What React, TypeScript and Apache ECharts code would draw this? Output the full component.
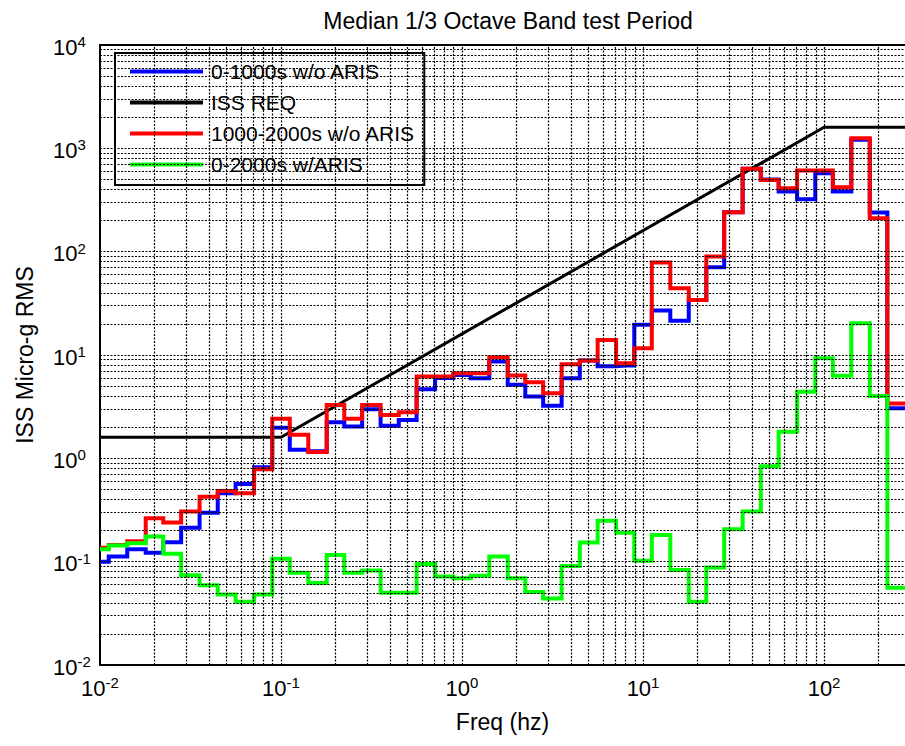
import React, { useEffect, useRef } from "react";
import * as echarts from "echarts";

// 1/3 octave band centre frequencies (Hz)
const bandCenters = [
  0.01, 0.0125, 0.016, 0.02, 0.025, 0.0315, 0.04, 0.05, 0.063, 0.08,
  0.1, 0.125, 0.16, 0.2, 0.25, 0.315, 0.4, 0.5, 0.63, 0.8,
  1, 1.25, 1.6, 2, 2.5, 3.15, 4, 5, 6.3, 8,
  10, 12.5, 16, 20, 25, 31.5, 40, 50, 63, 80,
  100, 125, 160, 200, 250,
];

// 0-1000s w/o ARIS (blue)
const blueValues = [
  0.1, 0.112, 0.132, 0.122, 0.154, 0.213, 0.298, 0.459, 0.565, 0.82,
  1.98, 1.21, 1.17, 2.24, 2.03, 2.99, 2.07, 2.35, 4.67, 6.0,
  6.4, 5.96, 8.63, 5.14, 3.96, 3.22, 5.96, 8.83, 7.8, 7.9,
  19.6, 26.9, 21.5, 34, 70.8, 241, 634, 500, 382, 322,
  575, 382, 1208, 239, 3.05,
];

// 1000-2000s w/o ARIS (red)
const redValues = [
  0.136, 0.145, 0.158, 0.263, 0.239, 0.305, 0.426, 0.483, 0.459, 0.783,
  2.42, 1.69, 1.15, 3.29, 2.41, 3.29, 2.63, 2.79, 6.2, 6.2,
  6.66, 6.66, 9.5, 6.32, 5.45, 4.27, 8.14, 8.83, 14.0, 8.3,
  11.6, 78.5, 44.3, 34.1, 89.7, 241, 634, 495, 412, 610,
  610, 421, 1254, 211, 3.4,
];

// 0-2000s w/ARIS (green)
const greenValues = [
  0.132, 0.143, 0.151, 0.175, 0.119, 0.074, 0.059, 0.048, 0.041, 0.048,
  0.107, 0.078, 0.062, 0.116, 0.078, 0.082, 0.05, 0.05, 0.095, 0.072,
  0.069, 0.073, 0.112, 0.069, 0.051, 0.044, 0.091, 0.153, 0.249, 0.191,
  0.102, 0.181, 0.083, 0.041, 0.088, 0.206, 0.305, 0.84, 1.81, 4.4,
  9.3, 6.3, 20.3, 4.0, 0.056,
];

// ISS requirement curve
const reqFreq = [0.01, 0.1, 100, 280];
const reqValues = [1.6, 1.6, 1600, 1600];

const seriesNames = ["0-1000s w/o ARIS", "ISS REQ", "1000-2000s w/o ARIS", "0-2000s w/ARIS"];

const X_MIN = 0.01;
const X_MAX = 280;
const Y_MIN = 0.01;
const Y_MAX = 10000;
const xDecades = [0.01, 0.1, 1, 10, 100];
const yDecades = [0.01, 0.1, 1, 10, 100, 1000];
const minorMultipliers = [1, 2, 3, 4, 5, 6, 7, 8, 9];

const FONT = "'Liberation Sans', Arial, Helvetica, sans-serif";

function toSteps(vals: number[]) {
  const d: number[][] = bandCenters.map((f, i) => [f, vals[i]]);
  d.push([X_MAX, vals[vals.length - 1]]);
  return d;
}

function powLabel(v: number) {
  const l = Math.log10(v);
  const e = Math.round(l);
  if (Math.abs(l - e) > 1e-6) return "";
  return "{b|10}{s|" + e + "}";
}

const richLabel = {
  b: { fontSize: 22, fontFamily: FONT, color: "#000", lineHeight: 22, padding: [10, 0, 6, 0] },
  s: { fontSize: 15, fontFamily: FONT, color: "#000", lineHeight: 18, verticalAlign: "top" },
};

export default function App() {
  const ref = useRef<HTMLDivElement>(null);
  useEffect(() => {
    document.body.style.margin = "0";
    if (!ref.current) return;
    const chart = echarts.init(ref.current, undefined, { renderer: "svg" });

    const gridLines: any[] = [];
    xDecades.forEach((d) =>
      minorMultipliers.forEach((m) => {
        const v = +(m * d).toPrecision(6);
        if (v > X_MIN * 1.0001 && v < X_MAX) gridLines.push({ xAxis: v });
      })
    );
    yDecades.forEach((d) =>
      minorMultipliers.forEach((m) => {
        const v = +(m * d).toPrecision(6);
        if (v > Y_MIN * 1.0001 && v < Y_MAX * 0.9999) gridLines.push({ yAxis: v });
      })
    );
    gridLines.push({ yAxis: Y_MAX });

    const option: any = {
      animation: false,
      backgroundColor: "#fff",
      title: {
        text: "Median 1/3 Octave Band test Period",
        left: 503,
        textAlign: "center",
        top: 4,
        textStyle: { fontSize: 23, fontWeight: "normal", fontFamily: FONT, color: "#000" },
      },
      legend: {
        data: seriesNames,
        orient: "vertical",
        left: 115,
        top: 53,
        padding: [8, 9, 10, 15],
        itemGap: 10,
        itemWidth: 73,
        itemHeight: 4,
        icon: "rect",
        selectedMode: false,
        backgroundColor: "#fff",
        borderColor: "#000",
        borderWidth: 2,
        textStyle: { fontSize: 21, fontFamily: FONT, color: "#000", lineHeight: 20, padding: [0, 0, 0, 3] },
      },
      grid: { left: 100, right: 0, top: 45, bottom: 81, containLabel: false },
      xAxis: [
        {
          type: "log",
          logBase: 10,
          min: X_MIN,
          max: X_MAX,
          name: "Freq (hz)",
          nameLocation: "middle",
          nameGap: 45,
          nameTextStyle: { fontSize: 23, fontFamily: FONT, color: "#000" },
          axisLine: { show: true, onZero: false, lineStyle: { color: "#000", width: 2 } },
          axisTick: { show: false },
          splitLine: { show: false },
          axisLabel: { formatter: powLabel, rich: richLabel, margin: 10, showMaxLabel: false },
        },
        {
          type: "log",
          logBase: 10,
          min: X_MIN,
          max: X_MAX,
          position: "top",
          axisLine: { show: true, onZero: false, lineStyle: { color: "#000", width: 2 } },
          axisTick: { show: false },
          splitLine: { show: false },
          axisLabel: { show: false },
        },
      ],
      yAxis: {
        type: "log",
        logBase: 10,
        min: Y_MIN,
        max: Y_MAX,
        name: "ISS Micro-g RMS",
        nameLocation: "middle",
        nameGap: 64,
        nameRotate: 90,
        nameTextStyle: { fontSize: 23, fontFamily: FONT, color: "#000" },
        axisLine: { show: true, onZero: false, lineStyle: { color: "#000", width: 2 } },
        axisTick: { show: false },
        splitLine: { show: false },
        axisLabel: { formatter: powLabel, rich: richLabel, margin: 47, align: "left" },
      },
      series: [
        {
          name: "gridlines",
          type: "line",
          data: [],
          z: 1,
          silent: true,
          markLine: {
            silent: true,
            symbol: ["none", "none"],
            label: { show: false },
            emphasis: { disabled: true },
            lineStyle: { color: "#000", width: 1.2, type: [2, 1.5], opacity: 1 },
            data: gridLines,
          },
        },
        {
          name: seriesNames[0],
          type: "line",
          step: "middle",
          data: toSteps(blueValues),
          showSymbol: false,
          symbol: "none",
          lineStyle: { color: "#0000ff", width: 4, join: "miter" },
          itemStyle: { color: "#0000ff" },
          z: 3,
        },
        {
          name: seriesNames[1],
          type: "line",
          data: reqFreq.map((f, i) => [f, reqValues[i]]),
          showSymbol: false,
          symbol: "none",
          lineStyle: { color: "#000", width: 3 },
          itemStyle: { color: "#000" },
          z: 3,
        },
        {
          name: seriesNames[2],
          type: "line",
          step: "middle",
          data: toSteps(redValues),
          showSymbol: false,
          symbol: "none",
          lineStyle: { color: "#ff0000", width: 4, join: "miter" },
          itemStyle: { color: "#ff0000" },
          z: 3,
        },
        {
          name: seriesNames[3],
          type: "line",
          step: "middle",
          data: toSteps(greenValues),
          showSymbol: false,
          symbol: "none",
          lineStyle: { color: "#00ff00", width: 4, join: "miter" },
          itemStyle: { color: "#00ff00" },
          z: 3,
        },
      ],
    };
    chart.setOption(option);
    return () => chart.dispose();
  }, []);
  return (
    <div
      ref={ref}
      style={{ position: "absolute", left: 0, top: 0, width: 905, height: 746 }}
    />
  );
}
